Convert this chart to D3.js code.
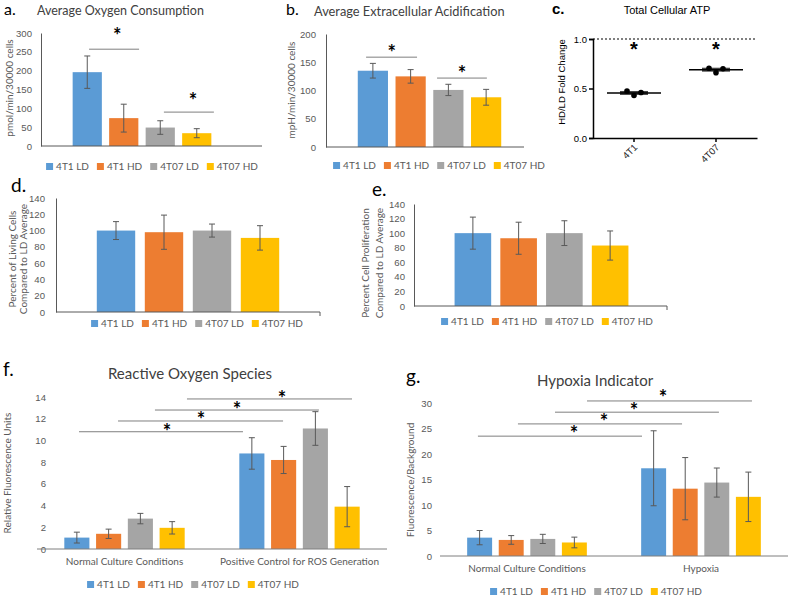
<!DOCTYPE html>
<html>
<meta charset="utf-8">
<title>Tumor cell metabolism panels</title>
<style>
body { margin: 0; background: #fff; }
svg { font-family: Lato, "Open Sans", sans-serif; }
.tick text { fill: #595959; font-size: 9.6px; }
.legend text { fill: #595959; font-size: 10px; }
.cat { fill: #595959; font-size: 10px; }
.ylab { fill: #595959; font-size: 10px; }
.title { fill: #404040; }
.letter { fill: #000; font-size: 16px; }
.err line { stroke: #595959; stroke-width: 1; }
.sig { stroke: #7f7f7f; stroke-width: 1; }
.star { font-weight: 700; font-size: 20px; fill: #000; }
.atp { font-family: "Liberation Sans", Arial, sans-serif; }
.atp .tick text { fill: #000; font-size: 9.5px; }
</style>
<script src="https://d3js.org/d3.v7.min.js"></script>
<body>
<svg id="fig" width="789" height="597"></svg>
<script>
// ---- data ----
const series = ["4T1 LD", "4T1 HD", "4T07 LD", "4T07 HD"];
const colors = ["#5b9bd5", "#ed7d31", "#a5a5a5", "#ffc000"];

// a. oxygen consumption (pmol/min/30000 cells)
const ocrMean = [196, 74, 49, 34];
const ocrErr = [43, 37, 18, 12];
const ocrTicks = [0, 50, 100, 150, 200, 250, 300];

// b. extracellular acidification (mpH/min/30000 cells)
const ecarMean = [135, 125, 101, 88];
const ecarErr = [13, 12, 10, 14];
const ecarTicks = [0, 50, 100, 150, 200];

// c. total cellular ATP, HD/LD fold change
const atpLines = ["4T1", "4T07"];
const atp4T1 = [0.475, 0.43, 0.46];
const atp4T07 = [0.705, 0.66, 0.70];
const atpMean = [0.455, 0.69];
const atpSd = [0.02, 0.02];
const atpTicks = [0, 0.5, 1.0];

// d. living cells, % of LD average
const viabMean = [100, 98, 100, 91];
const viabErr = [11, 21, 8, 15];
// e. cell proliferation, % of LD average
const prolifMean = [100, 93, 100, 83];
const prolifErr = [22, 22, 17, 20];
const pctTicks = [0, 20, 40, 60, 80, 100, 120, 140];

// f. reactive oxygen species
const rosGroups = ["Normal Culture Conditions", "Positive Control for ROS Generation"];
const rosNormal = [1.05, 1.4, 2.8, 1.95];
const rosNormalErr = [0.5, 0.43, 0.48, 0.57];
const rosPositive = [8.8, 8.2, 11.1, 3.9];
const rosPositiveErr = [1.45, 1.25, 1.55, 1.85];
const rosTicks = [0, 2, 4, 6, 8, 10, 12, 14];

// g. hypoxia indicator
const hypGroups = ["Normal Culture Conditions", "Hypoxia"];
const hypNormal = [3.6, 3.15, 3.35, 2.65];
const hypNormalErr = [1.4, 0.85, 0.9, 1.05];
const hypHypoxia = [17.2, 13.2, 14.4, 11.6];
const hypHypoxiaErr = [7.35, 6.1, 2.85, 4.85];
const hypTicks = [0, 5, 10, 15, 20, 25, 30];

// significance brackets: from/to in bar-index units (a, b) or group units (f, g)
const ocrSig = [{from: 0.55, to: 1.92, at: 257, sx: 1.32, sy: 302}, {from: 2.6, to: 3.97, at: 90, sx: 3.4, sy: 130}];
const ecarSig = [{from: 0.32, to: 1.67, at: 159, sx: 1.0, sy: 173}, {from: 2.2, to: 3.52, at: 122, sx: 2.86, sy: 136}];
const rosSig = [
  {from: 0.24, to: 1.177, at: 10.8, sx: 0.743, sy: 11.15},
  {from: 0.463, to: 1.406, at: 11.79, sx: 0.937, sy: 12.25},
  {from: 0.674, to: 1.611, at: 12.8, sx: 1.143, sy: 13.17},
  {from: 0.857, to: 1.8, at: 13.82, sx: 1.4, sy: 14.18},
];
const hypSig = [
  {from: 0.218, to: 1.161, at: 23.5, sx: 0.77, sy: 24.7},
  {from: 0.448, to: 1.391, at: 25.9, sx: 0.943, sy: 27.1},
  {from: 0.661, to: 1.603, at: 28.2, sx: 1.115, sy: 29.2},
  {from: 0.845, to: 1.793, at: 30.4, sx: 1.282, sy: 31.8},
];

const svg = d3.select("#fig");

function star(g, x, y) {
  g.append("text").attr("class", "star").attr("x", x).attr("y", y + 11)
    .attr("text-anchor", "middle").text("*");
}

function legend(cx, y) {
  const g = svg.append("g").attr("class", "legend");
  const items = g.selectAll("g").data(series).join("g");
  items.append("rect").attr("width", 7).attr("height", 7).attr("y", -7)
    .attr("fill", (d, i) => colors[i]);
  items.append("text").attr("x", 10).attr("y", 0).text(d => d);
  let pos = 0;
  items.each(function() {
    const w = 10 + d3.select(this).select("text").node().getComputedTextLength();
    d3.select(this).attr("transform", `translate(${pos},0)`);
    pos += w + 8;
  });
  g.attr("transform", `translate(${cx - (pos - 8) / 2},${y})`);
}

// rotated axis title, one text per line; x is the baseline of the first line
function yLabel(lines, x, cy, gap) {
  lines.forEach((t, i) => {
    svg.append("text").attr("class", "ylab")
      .attr("transform", `translate(${x + i * gap},${cy}) rotate(-90)`)
      .attr("text-anchor", "middle").text(t);
  });
}

function errBars(g, data, cx, y, cap) {
  const e = g.append("g").attr("class", "err").selectAll("g").data(data).join("g");
  e.append("line").attr("x1", cx).attr("x2", cx)
    .attr("y1", d => y(d.m + d.e)).attr("y2", d => y(d.m - d.e));
  e.append("line").attr("x1", d => cx(d) - cap).attr("x2", d => cx(d) + cap)
    .attr("y1", d => y(d.m + d.e)).attr("y2", d => y(d.m + d.e));
  e.append("line").attr("x1", d => cx(d) - cap).attr("x2", d => cx(d) + cap)
    .attr("y1", d => y(d.m - d.e)).attr("y2", d => y(d.m - d.e));
}

function yAxis(g, y, ticks, left, pad, line) {
  const ax = g.append("g").attr("transform", `translate(${left},0)`)
    .call(d3.axisLeft(y).tickValues(ticks).tickSize(0).tickPadding(pad));
  ax.select(".domain").attr("stroke", line ? "#595959" : "none");
  return ax;
}

// simple 4-bar panel
function barPanel(o) {
  const g = svg.append("g");
  const x = d3.scaleBand().domain(series).range([o.barLeft, o.barRight])
    .paddingInner(0.2).paddingOuter(0.1);
  const y = d3.scaleLinear().domain([0, o.max]).range([o.bottom, o.top]);
  const data = series.map((s, i) => ({s, i, m: o.mean[i], e: o.err[i]}));
  g.selectAll("rect").data(data).join("rect")
    .attr("x", d => x(d.s)).attr("width", x.bandwidth())
    .attr("y", d => y(d.m)).attr("height", d => y(0) - y(d.m))
    .attr("fill", d => colors[d.i]);
  errBars(g, data, d => x(d.s) + x.bandwidth() / 2, y, 3);
  yAxis(g, y, o.ticks, o.left, o.pad, true);
  g.append("line").attr("x1", o.left).attr("x2", o.right)
    .attr("y1", y(0)).attr("y2", y(0)).attr("stroke", "#595959");
  if (o.endTick) {
    g.append("line").attr("x1", o.right).attr("x2", o.right)
      .attr("y1", y(0)).attr("y2", y(0) + 4).attr("stroke", "#595959");
  }
  const xi = d3.scaleLinear().domain([0, series.length]).range(x.range());
  (o.sig || []).forEach(b => {
    g.append("line").attr("class", "sig").attr("x1", xi(b.from)).attr("x2", xi(b.to))
      .attr("y1", y(b.at)).attr("y2", y(b.at));
    star(g, xi(b.sx), y(b.sy));
  });
}

// two-group clustered panel
function groupPanel(o) {
  const g = svg.append("g");
  const outer = d3.scaleBand().domain(o.groups).range([o.left, o.right]);
  const inner = d3.scaleBand().domain(series).range([0, outer.bandwidth()])
    .paddingInner(0.21).paddingOuter(0.86);
  const y = d3.scaleLinear().domain([0, o.max]).range([o.bottom, o.top]);
  const data = [];
  o.groups.forEach((grp, k) => series.forEach((s, i) =>
    data.push({grp, s, i, m: o.means[k][i], e: o.errs[k][i]})));
  const bx = d => outer(d.grp) + inner(d.s);
  g.selectAll("rect").data(data).join("rect")
    .attr("x", bx).attr("width", inner.bandwidth())
    .attr("y", d => y(d.m)).attr("height", d => y(0) - y(d.m))
    .attr("fill", d => colors[d.i]);
  errBars(g, data, d => bx(d) + inner.bandwidth() / 2, y, 3);
  yAxis(g, y, o.ticks, o.left + 9, o.pad, false);
  g.append("line").attr("x1", o.left).attr("x2", o.right)
    .attr("y1", y(0)).attr("y2", y(0)).attr("stroke", "#7f7f7f");
  g.selectAll(".cat").data(o.groups).join("text").attr("class", "cat")
    .attr("x", d => outer(d) + outer.bandwidth() / 2).attr("y", y(0) + 16)
    .attr("text-anchor", "middle").text(d => d);
  const gx = d3.scaleLinear().domain([0, o.groups.length]).range([o.left, o.right]);
  o.sig.forEach(b => {
    g.append("line").attr("class", "sig").attr("x1", gx(b.from)).attr("x2", gx(b.to))
      .attr("y1", y(b.at)).attr("y2", y(b.at));
    star(g, gx(b.sx), y(b.sy));
  });
}

// ---- panel a ----
svg.append("text").attr("class", "letter").attr("x", 4).attr("y", 15).text("a.");
svg.append("text").attr("class", "title").attr("x", 37).attr("y", 15)
  .style("font-size", "12.5px").text("Average Oxygen Consumption");
barPanel({left: 41, right: 262, bottom: 146, top: 33, max: 300, ticks: ocrTicks, pad: 9,
  barLeft: 69, barRight: 215, mean: ocrMean, err: ocrErr, sig: ocrSig});
yLabel(["pmol/min/30000 cells"], 12.5, 88, 0);
legend(152, 170);

// ---- panel b ----
svg.append("text").attr("class", "letter").attr("x", 286).attr("y", 15).text("b.");
svg.append("text").attr("class", "title").attr("x", 314).attr("y", 16)
  .style("font-size", "12.8px").text("Average Extracellular Acidification");
barPanel({left: 326, right: 524, bottom: 147, top: 34, max: 200, ticks: ecarTicks, pad: 10,
  barLeft: 354, barRight: 505, mean: ecarMean, err: ecarErr, sig: ecarSig});
yLabel(["mpH/min/30000 cells"], 295, 90, 0);
legend(439, 169);

// ---- panel c ----
{
  const g = svg.append("g").attr("class", "atp");
  g.append("text").attr("x", 552).attr("y", 14).style("font-size", "15px")
    .style("font-weight", 700).text("c.");
  g.append("text").attr("x", 667).attr("y", 14).attr("text-anchor", "middle")
    .style("font-size", "11px").text("Total Cellular ATP");
  const x = d3.scaleBand().domain(atpLines).range([593, 757]);
  const y = d3.scaleLinear().domain([0, 1]).range([138, 39]);
  const ax = g.append("g").attr("transform", "translate(593,0)")
    .call(d3.axisLeft(y).tickValues(atpTicks).tickFormat(d3.format(".1f")).tickSize(4).tickPadding(2));
  ax.selectAll("line,path").attr("stroke", "#000").attr("stroke-width", 1.5);
  const bx = g.append("g").attr("transform", "translate(0,138)")
    .call(d3.axisBottom(x).tickSize(4).tickSizeOuter(0));
  bx.selectAll("line,path").attr("stroke", "#000").attr("stroke-width", 1.5);
  bx.selectAll("text").attr("text-anchor", "end").attr("dy", null).attr("y", 0)
    .style("fill", "#222").attr("transform", "translate(4,10) rotate(-45)");
  g.append("line").attr("x1", 593).attr("x2", 757).attr("y1", y(1)).attr("y2", y(1))
    .attr("stroke", "#000").attr("stroke-dasharray", "2,2");
  const pts = [atp4T1, atp4T07];
  atpLines.forEach((c, k) => {
    const cx = x(c) + x.bandwidth() / 2;
    g.append("rect").attr("x", cx - 14).attr("width", 28)
      .attr("y", y(atpMean[k] + atpSd[k])).attr("height", y(atpMean[k] - atpSd[k]) - y(atpMean[k] + atpSd[k]))
      .attr("fill", "#444");
    g.append("line").attr("x1", cx - 27).attr("x2", cx + 27)
      .attr("y1", y(atpMean[k])).attr("y2", y(atpMean[k])).attr("stroke", "#000").attr("stroke-width", 1.5);
    g.selectAll(null).data(pts[k]).join("circle")
      .attr("cx", (d, i) => cx + (i - 1) * 7).attr("cy", d => y(d)).attr("r", 2.8).attr("fill", "#000");
    star(g, cx, y(0.94));
  });
  g.append("text").attr("transform", "translate(565,82) rotate(-90)").attr("text-anchor", "middle")
    .style("font-size", "9.5px").text("HD/LD Fold Change");
}

// ---- panel d ----
svg.append("text").attr("class", "letter").attr("x", 11).attr("y", 192).style("font-size", "19px").text("d.");
barPanel({left: 56, right: 320, bottom: 312, top: 198, max: 140, ticks: pctTicks, pad: 11,
  barLeft: 92, barRight: 284, mean: viabMean, err: viabErr, endTick: true});
yLabel(["Percent of Living Cells", "Compared to LD Average"], 16, 259, 11);
legend(197, 327);

// ---- panel e ----
svg.append("text").attr("class", "letter").attr("x", 372).attr("y", 196).style("font-size", "19px").text("e.");
barPanel({left: 414, right: 667, bottom: 306, top: 204, max: 140, ticks: pctTicks, pad: 9,
  barLeft: 450, barRight: 633, mean: prolifMean, err: prolifErr, endTick: true});
yLabel(["Percent Cell Proliferation", "Compared to LD Average"], 369, 263, 14);
legend(547, 325);

// ---- panel f ----
svg.append("text").attr("class", "letter").attr("x", 3).attr("y", 376).style("font-size", "19px").text("f.");
svg.append("text").attr("class", "title").attr("x", 190).attr("y", 379).attr("text-anchor", "middle")
  .style("font-size", "15px").text("Reactive Oxygen Species");
groupPanel({left: 37, right: 387, bottom: 549, top: 397, max: 14, ticks: rosTicks, pad: 0,
  groups: rosGroups, means: [rosNormal, rosPositive], errs: [rosNormalErr, rosPositiveErr], sig: rosSig});
yLabel(["Relative Fluorescence Units"], 11, 473, 0);
legend(193, 588);

// ---- panel g ----
svg.append("text").attr("class", "letter").attr("x", 406).attr("y", 383).style("font-size", "19px").text("g.");
svg.append("text").attr("class", "title").attr("x", 595).attr("y", 386).attr("text-anchor", "middle")
  .style("font-size", "15px").text("Hypoxia Indicator");
groupPanel({left: 440, right: 788, bottom: 556, top: 403, max: 30, ticks: hypTicks, pad: 17,
  groups: hypGroups, means: [hypNormal, hypHypoxia], errs: [hypNormalErr, hypHypoxiaErr], sig: hypSig});
yLabel(["Fluorescence/Background"], 414, 480, 0);
legend(596, 595);
</script>
</body>
</html>
